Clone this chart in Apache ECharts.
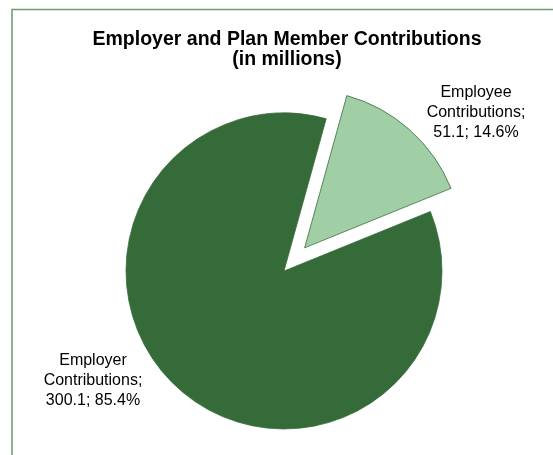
<!DOCTYPE html>
<html>
<head>
<meta charset="utf-8">
<script src="https://cdn.jsdelivr.net/npm/echarts@6/dist/echarts.min.js"></script>
<style>
  html, body { margin: 0; padding: 0; background: #ffffff; }
  #chart { width: 553px; height: 455px; }
</style>
</head>
<body>
<div id="chart"></div>
<script>
// Contribution sources (values in millions)
const categories = ['Employee Contributions', 'Employer Contributions'];
const contributions = [51.1, 300.1];
const sliceColors = ['#a0cfa5', '#356a39'];
const titleLines = ['Employer and Plan Member Contributions', '(in millions)'];

// Anchor points (centre of each label block)
const labelAnchors = [
  { x: 476, y: 113 },
  { x: 93, y: 381 }
];

const total = contributions.reduce((s, v) => s + v, 0);
const labelText = (i) =>
  categories[i].replace(' ', '\n') + ';\n' +
  contributions[i] + '; ' + (contributions[i] / total * 100).toFixed(1) + '%';

const chart = echarts.init(document.getElementById('chart'), null, { renderer: 'canvas' });

const pieData = categories.map((name, i) => ({
  name: name,
  value: contributions[i],
  selected: i === 0,
  itemStyle: { color: sliceColors[i] }
}));

const labelGraphics = categories.map((name, i) => ({
  type: 'text',
  x: labelAnchors[i].x,
  y: labelAnchors[i].y,
  silent: true,
  z: 10,
  style: {
    text: labelText(i),
    fontFamily: 'Liberation Sans, Arial, sans-serif',
    fontSize: 16,
    lineHeight: 20,
    fill: '#000000',
    align: 'center',
    verticalAlign: 'middle'
  }
}));

chart.setOption({
  animation: false,
  backgroundColor: '#ffffff',
  title: {
    text: titleLines.join('\n'),
    left: 282,
    top: 25,
    textAlign: 'center',
    textStyle: {
      fontFamily: 'Liberation Sans, Arial, sans-serif',
      fontWeight: 'bold',
      fontSize: 19.5,
      lineHeight: 20,
      color: '#000000'
    }
  },
  graphic: [{
    type: 'rect',
    shape: { x: 12, y: 9.5, width: 700, height: 600 },
    style: { fill: 'none', stroke: '#6b9b6f', lineWidth: 1.5 },
    silent: true,
    z: 0
  }].concat(labelGraphics),
  series: [{
    type: 'pie',
    center: [284, 271],
    radius: 158,
    startAngle: 74.5,
    clockwise: true,
    selectedMode: 'single',
    selectedOffset: 31,
    itemStyle: { borderColor: '#3a6d3e', borderWidth: 0.8 },
    emphasis: { disabled: true },
    label: { show: false },
    labelLine: { show: false },
    data: pieData
  }]
});
</script>
</body>
</html>
